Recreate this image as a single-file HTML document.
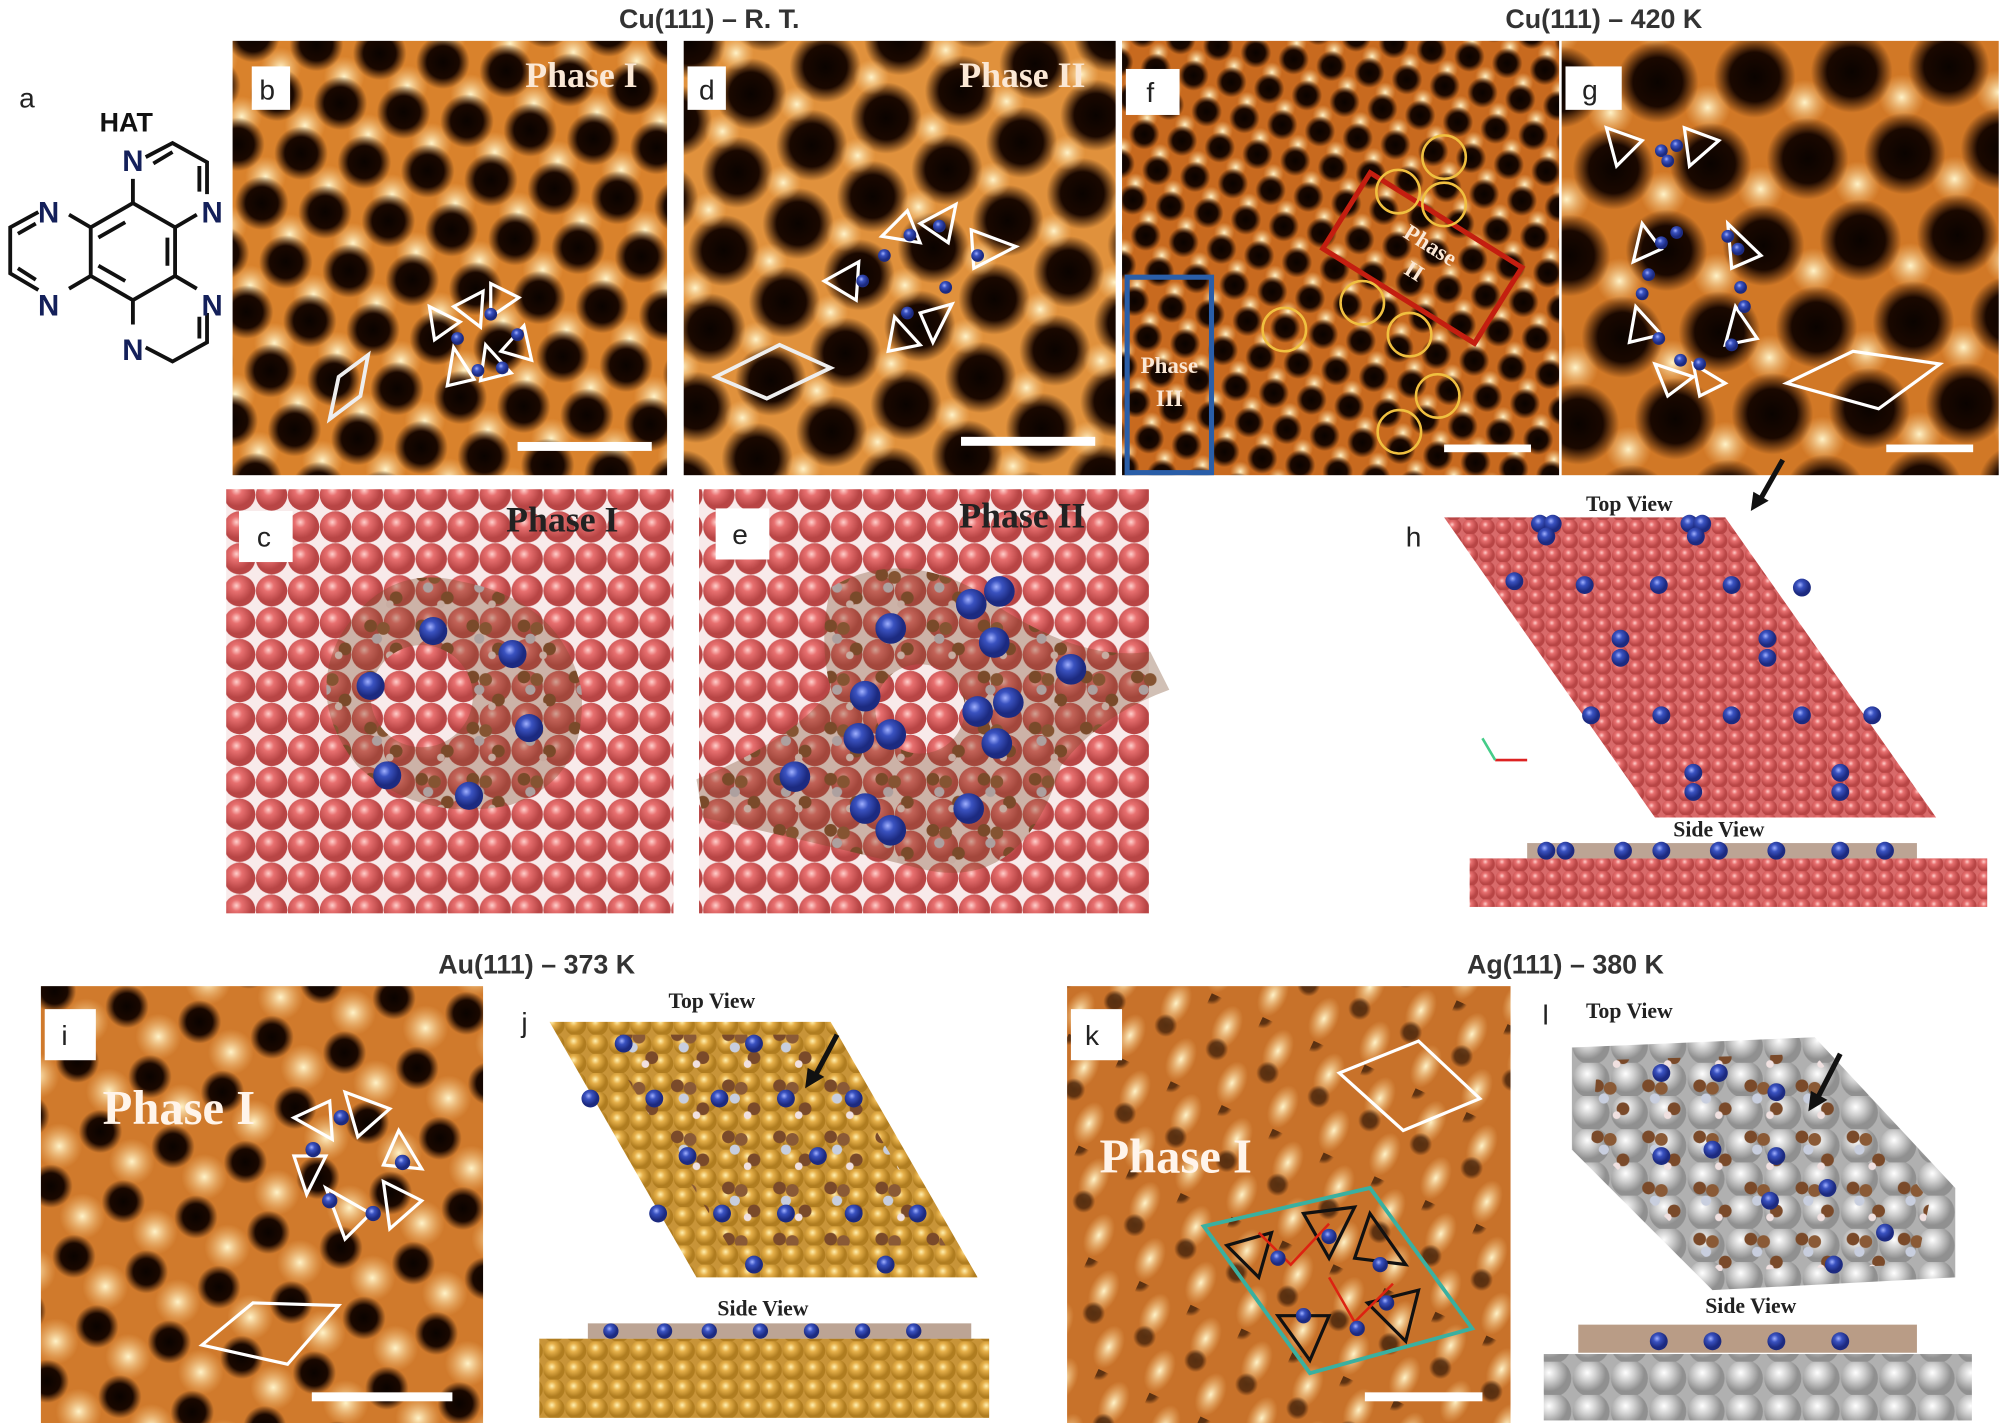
<!DOCTYPE html>
<html><head><meta charset="utf-8"><style>
html,body{margin:0;padding:0;background:#fff}
svg{display:block}
text{font-family:"Liberation Sans",sans-serif}
.ser{font-family:"Liberation Serif",serif;font-weight:bold}
.lab{font-size:22px;fill:#222}
</style></head><body>
<svg width="2000" height="1423" viewBox="0 0 1565 1114" preserveAspectRatio="none">
<defs>
<radialGradient id="hole"><stop offset="0" stop-color="#0a0300"/><stop offset="0.6" stop-color="#1a0800"/><stop offset="1" stop-color="#1a0800" stop-opacity="0"/></radialGradient>
<radialGradient id="bright"><stop offset="0" stop-color="#fff3c8"/><stop offset="1" stop-color="#f7c27a" stop-opacity="0"/></radialGradient>
<radialGradient id="pink" cx="0.4" cy="0.35"><stop offset="0" stop-color="#ffd0cc"/><stop offset="0.35" stop-color="#e87070"/><stop offset="1" stop-color="#b84545"/></radialGradient>
<radialGradient id="gold" cx="0.4" cy="0.35"><stop offset="0" stop-color="#fff0b0"/><stop offset="0.4" stop-color="#e6b04a"/><stop offset="1" stop-color="#b07d20"/></radialGradient>
<radialGradient id="grey" cx="0.4" cy="0.35"><stop offset="0" stop-color="#ffffff"/><stop offset="0.45" stop-color="#d0d0d0"/><stop offset="1" stop-color="#909090"/></radialGradient>
<radialGradient id="blue" cx="0.4" cy="0.35"><stop offset="0" stop-color="#a0b0ff"/><stop offset="0.4" stop-color="#3a52c0"/><stop offset="1" stop-color="#1c2a80"/></radialGradient>
<pattern id="stmB" width="50" height="86" patternUnits="userSpaceOnUse" patternTransform="rotate(8)">
<rect width="50" height="86" fill="#d9822c"/><circle cx="25" cy="22" r="16" fill="url(#bright)"/><circle cx="0" cy="64" r="16" fill="url(#bright)"/><circle cx="50" cy="64" r="16" fill="url(#bright)"/>
<circle cx="0" cy="0" r="21" fill="url(#hole)"/><circle cx="50" cy="0" r="21" fill="url(#hole)"/><circle cx="25" cy="43" r="21" fill="url(#hole)"/><circle cx="0" cy="86" r="21" fill="url(#hole)"/><circle cx="50" cy="86" r="21" fill="url(#hole)"/></pattern>
<pattern id="stmD" width="62" height="108" patternUnits="userSpaceOnUse" patternTransform="rotate(-20)">
<rect width="62" height="108" fill="#e0913c"/>
<circle cx="0" cy="0" r="28" fill="url(#hole)"/><circle cx="62" cy="0" r="28" fill="url(#hole)"/><circle cx="31" cy="54" r="28" fill="url(#hole)"/><circle cx="0" cy="108" r="28" fill="url(#hole)"/><circle cx="62" cy="108" r="28" fill="url(#hole)"/><circle cx="31" cy="20" r="14" fill="url(#bright)"/><circle cx="0" cy="74" r="14" fill="url(#bright)"/><circle cx="62" cy="74" r="14" fill="url(#bright)"/></pattern>
<pattern id="stmF" width="30" height="52" patternUnits="userSpaceOnUse" patternTransform="rotate(10)">
<rect width="30" height="52" fill="#c86a1f"/><circle cx="15" cy="13" r="8" fill="url(#bright)"/><circle cx="0" cy="39" r="8" fill="url(#bright)"/><circle cx="30" cy="39" r="8" fill="url(#bright)"/>
<circle cx="0" cy="0" r="12" fill="url(#hole)"/><circle cx="30" cy="0" r="12" fill="url(#hole)"/><circle cx="15" cy="26" r="12" fill="url(#hole)"/><circle cx="0" cy="52" r="12" fill="url(#hole)"/><circle cx="30" cy="52" r="12" fill="url(#hole)"/></pattern>
<pattern id="stmG" width="76" height="132" patternUnits="userSpaceOnUse" patternTransform="rotate(-3)">
<rect width="76" height="132" fill="#d17826"/><circle cx="38" cy="22" r="18" fill="url(#bright)"/><circle cx="0" cy="88" r="18" fill="url(#bright)"/><circle cx="76" cy="88" r="18" fill="url(#bright)"/>
<circle cx="0" cy="0" r="32" fill="url(#hole)"/><circle cx="76" cy="0" r="32" fill="url(#hole)"/><circle cx="38" cy="66" r="32" fill="url(#hole)"/><circle cx="0" cy="132" r="32" fill="url(#hole)"/><circle cx="76" cy="132" r="32" fill="url(#hole)"/></pattern>
<pattern id="stmI" width="58" height="100" patternUnits="userSpaceOnUse" patternTransform="rotate(12)">
<rect width="58" height="100" fill="#d07a2c"/><circle cx="29" cy="18" r="18" fill="url(#bright)"/><circle cx="0" cy="68" r="18" fill="url(#bright)"/><circle cx="58" cy="68" r="18" fill="url(#bright)"/>
<circle cx="0" cy="0" r="17" fill="url(#hole)"/><circle cx="58" cy="0" r="17" fill="url(#hole)"/><circle cx="29" cy="50" r="17" fill="url(#hole)"/><circle cx="0" cy="100" r="17" fill="url(#hole)"/><circle cx="58" cy="100" r="17" fill="url(#hole)"/></pattern>
<pattern id="stmK" width="44" height="76" patternUnits="userSpaceOnUse" patternTransform="rotate(25)">
<rect width="44" height="76" fill="#c8722a"/><ellipse cx="22" cy="19" rx="11" ry="18" fill="url(#bright)"/><ellipse cx="0" cy="57" rx="11" ry="18" fill="url(#bright)"/><ellipse cx="44" cy="57" rx="11" ry="18" fill="url(#bright)"/>
<circle cx="0" cy="0" r="9" fill="url(#hole)" opacity="0.6"/><circle cx="22" cy="38" r="9" fill="url(#hole)" opacity="0.6"/></pattern>
<pattern id="atomPink" width="25" height="25" patternUnits="userSpaceOnUse"><rect width="25" height="25" fill="#f8eaea"/><circle cx="12.5" cy="12.5" r="12.3" fill="url(#pink)"/></pattern>
<pattern id="atomPinkS" width="13" height="11" patternUnits="userSpaceOnUse"><rect width="13" height="11" fill="#d86a6a"/><circle cx="6.5" cy="5.5" r="6.2" fill="url(#pink)"/></pattern>
<pattern id="atomGold" width="17" height="15" patternUnits="userSpaceOnUse"><rect width="17" height="15" fill="#c89438"/><circle cx="8.5" cy="7.5" r="8.3" fill="url(#gold)"/></pattern>
<pattern id="atomGrey" width="30" height="26" patternUnits="userSpaceOnUse"><rect width="30" height="26" fill="#b0b0b0"/><circle cx="15" cy="13" r="14.5" fill="url(#grey)"/></pattern>
<pattern id="mol" width="40" height="40" patternUnits="userSpaceOnUse"><circle cx="10" cy="10" r="5" fill="#7a4a2a"/><circle cx="20" cy="12" r="5" fill="#8a5a36"/><circle cx="15" cy="20" r="4" fill="#c8cede"/><circle cx="30" cy="28" r="5" fill="#7a4a2a"/><circle cx="25" cy="33" r="3" fill="#f0e0e0"/></pattern>
</defs>

<text x="555" y="22" text-anchor="middle" font-size="21" font-weight="bold" fill="#333">Cu(111) – R. T.</text>
<text x="1255" y="22" text-anchor="middle" font-size="21" font-weight="bold" fill="#333">Cu(111) – 420 K</text>
<text x="420" y="762" text-anchor="middle" font-size="21" font-weight="bold" fill="#333">Au(111) – 373 K</text>
<text x="1225" y="762" text-anchor="middle" font-size="21" font-weight="bold" fill="#333">Ag(111) – 380 K</text>

<g stroke="#111" stroke-width="3" fill="none">
<text x="15" y="84" class="lab" stroke="none">a</text>
<text x="78" y="103" font-size="21" font-weight="bold" fill="#111" stroke="none">HAT</text>
<path d="M104 159 L137 178 L137 216 L104 235 L71 216 L71 178 Z"/>
<path d="M131 186 L131 208 M77 186 L98 174 M77 208 L98 220"/>
<path d="M104 159 L104 140 M137 178 L154 168 M137 216 L154 226 M104 235 L104 254 M71 178 L54 168 M71 216 L54 226"/>
<path d="M114 123 L135 112 L162 127 L162 152 M120 128 L135 119 M156 130 L156 150"/>
<path d="M114 272 L135 283 L162 268 L162 245 M156 248 L156 265"/>
<path d="M30 166 L8 178 L8 214 L30 227 M14 183 L28 175 M14 210 L28 219"/>
<g fill="#14205a" stroke="none" font-size="23" font-weight="bold" text-anchor="middle">
<text x="104" y="134">N</text><text x="166" y="174">N</text><text x="166" y="247">N</text><text x="104" y="282">N</text><text x="38" y="174">N</text><text x="38" y="247">N</text></g>
</g>

<g>
<rect x="182" y="32" width="340" height="340" fill="url(#stmB)"/>
<rect x="197" y="52" width="30" height="34" fill="#fff"/><text x="203" y="78" class="lab">b</text>
<text x="455" y="68" text-anchor="middle" class="ser" font-size="28" fill="#fbe8d5">Phase I</text>
<path d="M258 328 L265 295 L288 278 L282 310 Z" fill="none" stroke="#eee" stroke-width="3"/>
<g fill="none" stroke="#fff" stroke-width="2.5"><path d="M355 240 L378 228 L376 256Z M384 222 L406 233 L384 248Z M410 255 L416 282 L392 275Z M380 270 L400 292 L376 298Z M355 272 L371 297 L350 302Z M340 266 L336 240 L360 252Z"/></g>
<g fill="url(#blue)"><circle cx="384" cy="246" r="5"/><circle cx="405" cy="262" r="5"/><circle cx="393" cy="288" r="5"/><circle cx="374" cy="290" r="5"/><circle cx="358" cy="265" r="5"/></g>
<rect x="405" y="346" width="105" height="7" fill="#fff"/>
</g>

<g>
<rect x="535" y="32" width="338" height="340" fill="url(#stmD)"/>
<rect x="538" y="52" width="30" height="34" fill="#fff"/><text x="547" y="78" class="lab">d</text>
<text x="800" y="68" text-anchor="middle" class="ser" font-size="28" fill="#fbe8d5">Phase II</text>
<path d="M560 295 L610 270 L650 288 L600 312 Z" fill="none" stroke="#eee" stroke-width="3"/>
<g fill="none" stroke="#fff" stroke-width="2.5"><path d="M690 185 L710 165 L720 190Z M720 175 L748 160 L742 190Z M760 180 L795 193 L762 210Z M720 245 L745 238 L730 268Z M700 248 L720 270 L695 275Z M645 220 L672 205 L670 235Z"/></g>
<g fill="url(#blue)"><circle cx="712" cy="184" r="5"/><circle cx="735" cy="177" r="5"/><circle cx="765" cy="200" r="5"/><circle cx="740" cy="225" r="5"/><circle cx="710" cy="245" r="5"/><circle cx="675" cy="220" r="5"/><circle cx="692" cy="200" r="5"/></g>
<rect x="752" y="342" width="105" height="7" fill="#fff"/>
</g>

<g>
<rect x="878" y="32" width="342" height="340" fill="url(#stmF)"/>
<rect x="881" y="54" width="42" height="36" fill="#fff"/><text x="897" y="80" class="lab">f</text>
<rect x="882" y="217" width="66" height="153" fill="none" stroke="#2a5ea8" stroke-width="4"/>
<text x="915" y="292" text-anchor="middle" class="ser" font-size="18" fill="#fbe8d5">Phase</text>
<text x="915" y="318" text-anchor="middle" class="ser" font-size="18" fill="#fbe8d5">III</text>
<g transform="translate(1113 202) rotate(32)"><rect x="-70" y="-35" width="140" height="70" fill="none" stroke="#c41e10" stroke-width="4"/>
<text x="0" y="-6" text-anchor="middle" class="ser" font-size="18" fill="#fbe8d5">Phase</text><text x="0" y="18" text-anchor="middle" class="ser" font-size="18" fill="#fbe8d5">II</text></g>
<g fill="none" stroke="#f0c040" stroke-width="2"><circle cx="1130" cy="123" r="17"/><circle cx="1094" cy="150" r="17"/><circle cx="1130" cy="160" r="17"/><circle cx="1066" cy="237" r="17"/><circle cx="1103" cy="262" r="17"/><circle cx="1005" cy="258" r="17"/><circle cx="1125" cy="310" r="17"/><circle cx="1095" cy="338" r="17"/></g>
<rect x="1130" y="348" width="68" height="6" fill="#fff"/>
</g>

<g>
<rect x="1222" y="32" width="342" height="340" fill="url(#stmG)"/>
<rect x="1225" y="52" width="44" height="34" fill="#fff"/><text x="1238" y="78" class="lab">g</text>
<g fill="none" stroke="#fff" stroke-width="2.5"><path d="M1257 100 L1285 110 L1265 130Z M1318 100 L1345 110 L1322 130Z M1285 175 L1300 195 L1278 205Z M1352 175 L1378 200 L1355 210Z M1280 240 L1300 262 L1275 268Z M1358 240 L1375 265 L1350 270Z M1295 285 L1325 295 L1305 310Z M1325 285 L1350 300 L1330 310Z"/></g>
<g fill="url(#blue)"><circle cx="1300" cy="118" r="5"/><circle cx="1312" cy="114" r="5"/><circle cx="1305" cy="126" r="5"/><circle cx="1300" cy="190" r="5"/><circle cx="1312" cy="182" r="5"/><circle cx="1352" cy="185" r="5"/><circle cx="1360" cy="195" r="5"/><circle cx="1290" cy="215" r="5"/><circle cx="1285" cy="230" r="5"/><circle cx="1362" cy="225" r="5"/><circle cx="1365" cy="240" r="5"/><circle cx="1298" cy="265" r="5"/><circle cx="1315" cy="282" r="5"/><circle cx="1330" cy="285" r="5"/><circle cx="1355" cy="270" r="5"/></g>
<path d="M1398 300 L1450 275 L1518 285 L1470 320 Z" fill="none" stroke="#fff" stroke-width="2.5"/>
<rect x="1476" y="348" width="68" height="6" fill="#fff"/>
</g>

<g>
<rect x="177" y="383" width="350" height="332" fill="url(#atomPink)"/>
<rect x="187" y="400" width="42" height="40" fill="#fff"/><text x="201" y="428" class="lab">c</text>
<text x="440" y="416" text-anchor="middle" class="ser" font-size="28" fill="#222">Phase I</text>
<path d="M265 500 Q300 440 360 455 Q440 470 455 540 Q460 610 400 630 Q330 645 280 600 Q240 550 265 500 Z" fill="url(#mol)"/>
<path d="M265 500 Q300 440 360 455 Q440 470 455 540 Q460 610 400 630 Q330 645 280 600 Q240 550 265 500 Z" fill="#7a4a2a" opacity="0.35"/>
<circle cx="330" cy="545" r="40" fill="url(#atomPink)"/>
<g fill="url(#blue)"><circle cx="339" cy="494" r="11"/><circle cx="401" cy="512" r="11"/><circle cx="290" cy="537" r="11"/><circle cx="414" cy="570" r="11"/><circle cx="303" cy="607" r="11"/><circle cx="367" cy="623" r="11"/></g>
</g>

<g>
<rect x="547" y="383" width="352" height="332" fill="url(#atomPink)"/>
<rect x="560" y="398" width="42" height="40" fill="#fff"/><text x="573" y="426" class="lab">e</text>
<text x="800" y="413" text-anchor="middle" class="ser" font-size="28" fill="#222">Phase II</text>
<path d="M650 460 Q700 430 760 460 Q840 520 900 510 L915 540 Q860 560 830 600 Q800 700 720 680 Q640 660 550 640 L545 610 Q620 580 650 540 Q640 500 650 460Z" fill="url(#mol)"/>
<path d="M650 460 Q700 430 760 460 Q840 520 900 510 L915 540 Q860 560 830 600 Q800 700 720 680 Q640 660 550 640 L545 610 Q620 580 650 540 Q640 500 650 460Z" fill="#7a4a2a" opacity="0.35"/>
<circle cx="720" cy="555" r="35" fill="url(#atomPink)"/>
<g fill="url(#blue)"><circle cx="697" cy="492" r="12"/><circle cx="760" cy="473" r="12"/><circle cx="782" cy="463" r="12"/><circle cx="778" cy="503" r="12"/><circle cx="838" cy="524" r="12"/><circle cx="677" cy="545" r="12"/><circle cx="672" cy="578" r="12"/><circle cx="697" cy="575" r="12"/><circle cx="765" cy="557" r="12"/><circle cx="789" cy="550" r="12"/><circle cx="780" cy="582" r="12"/><circle cx="622" cy="608" r="12"/><circle cx="677" cy="633" r="12"/><circle cx="697" cy="650" r="12"/><circle cx="758" cy="633" r="12"/></g>
</g>

<g>
<text x="1100" y="428" class="lab">h</text>
<text x="1275" y="400" text-anchor="middle" class="ser" font-size="17" fill="#222">Top View</text>
<path d="M1130 405 L1350 405 L1515 640 L1295 640 Z" fill="url(#atomPinkS)"/>
<g fill="url(#blue)"><circle cx="1205" cy="410" r="7"/><circle cx="1215" cy="410" r="7"/><circle cx="1210" cy="420" r="7"/><circle cx="1322" cy="410" r="7"/><circle cx="1332" cy="410" r="7"/><circle cx="1327" cy="420" r="7"/>
<circle cx="1185" cy="455" r="7"/><circle cx="1240" cy="458" r="7"/><circle cx="1298" cy="458" r="7"/><circle cx="1355" cy="458" r="7"/><circle cx="1410" cy="460" r="7"/>
<circle cx="1268" cy="500" r="7"/><circle cx="1268" cy="515" r="7"/><circle cx="1383" cy="500" r="7"/><circle cx="1383" cy="515" r="7"/>
<circle cx="1245" cy="560" r="7"/><circle cx="1300" cy="560" r="7"/><circle cx="1355" cy="560" r="7"/><circle cx="1410" cy="560" r="7"/><circle cx="1465" cy="560" r="7"/>
<circle cx="1325" cy="605" r="7"/><circle cx="1325" cy="620" r="7"/><circle cx="1440" cy="605" r="7"/><circle cx="1440" cy="620" r="7"/></g>
<path d="M1395 360 L1378 390" stroke="#111" stroke-width="4"/><path d="M1370 400 L1372 385 L1384 392Z" fill="#111"/>
<path d="M1170 595 L1195 595" stroke="#d22" stroke-width="2"/><path d="M1170 595 L1160 578" stroke="#4c8" stroke-width="2"/>
<text x="1345" y="655" text-anchor="middle" class="ser" font-size="17" fill="#222">Side View</text>
<rect x="1150" y="672" width="405" height="38" fill="url(#atomPinkS)"/>
<rect x="1195" y="660" width="305" height="12" fill="#7a4a2a" opacity="0.5"/>
<g fill="url(#blue)"><circle cx="1210" cy="666" r="7"/><circle cx="1225" cy="666" r="7"/><circle cx="1270" cy="666" r="7"/><circle cx="1300" cy="666" r="7"/><circle cx="1345" cy="666" r="7"/><circle cx="1390" cy="666" r="7"/><circle cx="1440" cy="666" r="7"/><circle cx="1475" cy="666" r="7"/></g>
</g>

<g>
<rect x="32" y="772" width="346" height="342" fill="url(#stmI)"/>
<rect x="35" y="790" width="40" height="40" fill="#fff"/><text x="48" y="818" class="lab">i</text>
<text x="140" y="880" text-anchor="middle" class="ser" font-size="38" fill="#fff4ea">Phase I</text>
<g fill="none" stroke="#fff" stroke-width="2.5"><path d="M230 875 L258 862 L260 892Z M270 855 L305 868 L280 890Z M312 885 L330 915 L300 912Z M300 925 L330 940 L305 962Z M255 930 L290 950 L270 970Z M230 905 L255 905 L240 935Z"/></g>
<g fill="url(#blue)"><circle cx="267" cy="875" r="6"/><circle cx="315" cy="910" r="6"/><circle cx="292" cy="950" r="6"/><circle cx="258" cy="940" r="6"/><circle cx="245" cy="900" r="6"/></g>
<path d="M158 1053 L198 1020 L265 1022 L225 1068 Z" fill="none" stroke="#fff" stroke-width="2.5"/>
<rect x="244" y="1090" width="110" height="7" fill="#fff"/>
</g>

<g>
<text x="408" y="808" class="lab">j</text>
<text x="557" y="789" text-anchor="middle" class="ser" font-size="17" fill="#222">Top View</text>
<path d="M430 800 L650 800 L765 1000 L545 1000 Z" fill="url(#atomGold)"/>
<path d="M470 810 L640 810 L740 975 L570 975 Z" fill="url(#mol)"/>
<g fill="url(#blue)"><circle cx="488" cy="817" r="7"/><circle cx="590" cy="817" r="7"/><circle cx="462" cy="860" r="7"/><circle cx="512" cy="860" r="7"/><circle cx="563" cy="860" r="7"/><circle cx="615" cy="860" r="7"/><circle cx="668" cy="860" r="7"/><circle cx="538" cy="905" r="7"/><circle cx="640" cy="905" r="7"/><circle cx="515" cy="950" r="7"/><circle cx="565" cy="950" r="7"/><circle cx="615" cy="950" r="7"/><circle cx="668" cy="950" r="7"/><circle cx="718" cy="950" r="7"/><circle cx="590" cy="990" r="7"/><circle cx="693" cy="990" r="7"/></g>
<path d="M655 810 L638 842" stroke="#111" stroke-width="4"/><path d="M630 852 L632 836 L645 843Z" fill="#111"/>
<text x="597" y="1030" text-anchor="middle" class="ser" font-size="17" fill="#222">Side View</text>
<rect x="422" y="1048" width="352" height="62" fill="url(#atomGold)"/>
<rect x="460" y="1036" width="300" height="12" fill="#7a4a2a" opacity="0.5"/>
<g fill="url(#blue)"><circle cx="478" cy="1042" r="6"/><circle cx="520" cy="1042" r="6"/><circle cx="555" cy="1042" r="6"/><circle cx="595" cy="1042" r="6"/><circle cx="635" cy="1042" r="6"/><circle cx="675" cy="1042" r="6"/><circle cx="715" cy="1042" r="6"/></g>
</g>

<g>
<rect x="835" y="772" width="347" height="342" fill="url(#stmK)"/>
<rect x="838" y="790" width="40" height="40" fill="#fff"/><text x="849" y="818" class="lab">k</text>
<text x="920" y="918" text-anchor="middle" class="ser" font-size="38" fill="#fff4ea">Phase I</text>
<path d="M1048 840 L1110 815 L1158 860 L1098 885 Z" fill="none" stroke="#fff" stroke-width="2.5"/>
<path d="M942 960 L1072 930 L1152 1040 L1025 1075 Z" fill="none" stroke="#3ab0a0" stroke-width="3"/>
<g fill="none" stroke="#111" stroke-width="2.5"><path d="M960 975 L995 965 L985 1000Z M1020 950 L1060 945 L1040 985Z M1072 950 L1100 990 L1060 985Z M1000 1030 L1040 1030 L1025 1065Z M1070 1020 L1110 1010 L1100 1050Z"/></g>
<g fill="none" stroke="#d21" stroke-width="2"><path d="M985 965 L1010 990 L1040 958 M1040 1000 L1060 1035 L1090 1005"/></g>
<g fill="url(#blue)"><circle cx="1000" cy="985" r="6"/><circle cx="1040" cy="968" r="6"/><circle cx="1080" cy="990" r="6"/><circle cx="1020" cy="1030" r="6"/><circle cx="1062" cy="1040" r="6"/><circle cx="1085" cy="1020" r="6"/></g>
<rect x="1068" y="1090" width="92" height="7" fill="#fff"/>
</g>

<g>
<text x="1207" y="802" class="lab">l</text>
<text x="1275" y="797" text-anchor="middle" class="ser" font-size="17" fill="#222">Top View</text>
<path d="M1230 820 L1420 812 L1530 930 L1530 1000 L1340 1010 L1230 900 Z" fill="url(#atomGrey)"/>
<path d="M1250 830 L1420 825 L1510 940 L1500 990 L1345 995 L1245 895 Z" fill="url(#mol)"/>
<g fill="url(#blue)"><circle cx="1300" cy="840" r="7"/><circle cx="1340" cy="900" r="7"/><circle cx="1390" cy="905" r="7"/><circle cx="1300" cy="905" r="7"/><circle cx="1430" cy="930" r="7"/><circle cx="1475" cy="965" r="7"/><circle cx="1345" cy="840" r="7"/><circle cx="1385" cy="940" r="7"/><circle cx="1435" cy="990" r="7"/><circle cx="1390" cy="855" r="7"/></g>
<path d="M1440 825 L1422 860" stroke="#111" stroke-width="4"/><path d="M1415 870 L1417 854 L1430 861Z" fill="#111"/>
<text x="1370" y="1028" text-anchor="middle" class="ser" font-size="17" fill="#222">Side View</text>
<rect x="1208" y="1060" width="335" height="52" fill="url(#atomGrey)"/>
<rect x="1235" y="1037" width="265" height="22" fill="#8a5a36" opacity="0.6"/>
<g fill="url(#blue)"><circle cx="1298" cy="1050" r="7"/><circle cx="1340" cy="1050" r="7"/><circle cx="1390" cy="1050" r="7"/><circle cx="1440" cy="1050" r="7"/></g>
</g>
</svg>
</body></html>
